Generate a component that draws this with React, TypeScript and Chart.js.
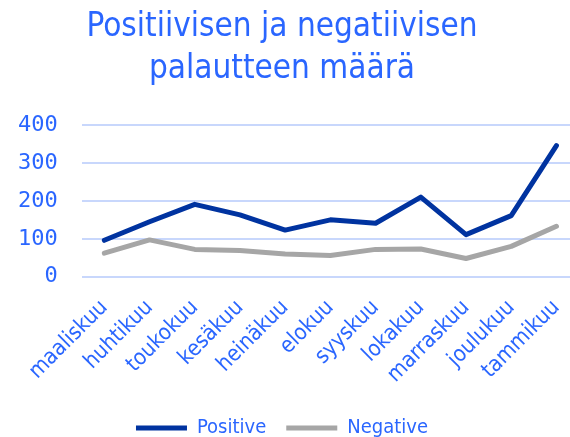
import React, { useEffect, useRef } from 'react';
import { Chart, registerables } from 'chart.js';

Chart.register(...registerables);

const months = ['maaliskuu', 'huhtikuu', 'toukokuu', 'kesäkuu', 'heinäkuu', 'elokuu', 'syyskuu', 'lokakuu', 'marraskuu', 'joulukuu', 'tammikuu'];
const positiveValues = [96, 145, 191, 163, 123, 150, 141, 210, 111, 161, 346];
const negativeValues = [62, 97, 72, 69, 60, 56, 72, 73, 48, 80, 133];
const yTickValues = [0, 100, 200, 300, 400];
const titleLines = ['Positiivisen ja negatiivisen', 'palautteen määrä'];

const TEXT_BLUE = '#2a66ff';
const POS_COLOR = '#0033a0';
const NEG_COLOR = '#a6a6a6';
const GRID_COLOR = '#c8d7fc';
const SANS = "'DejaVu Sans Condensed', 'DejaVu Sans', sans-serif";
const MONO = "'DejaVu Sans Mono', monospace";

const CANVAS_W = 580;
const CANVAS_H = 448;

export default function App() {
  const ref = useRef<HTMLCanvasElement>(null);

  useEffect(() => {
    const chart = new Chart(ref.current as HTMLCanvasElement, {
      type: 'line',
      data: {
        datasets: [
          {
            label: 'Positive',
            data: positiveValues.map((y, i) => ({ x: i, y })),
            borderColor: POS_COLOR,
            backgroundColor: POS_COLOR,
            borderWidth: 5,
            pointRadius: 0,
            pointHoverRadius: 0,
            borderCapStyle: 'round',
            borderJoinStyle: 'round',
            tension: 0,
          },
          {
            label: 'Negative',
            data: negativeValues.map((y, i) => ({ x: i, y })),
            borderColor: NEG_COLOR,
            backgroundColor: NEG_COLOR,
            borderWidth: 5,
            pointRadius: 0,
            pointHoverRadius: 0,
            borderCapStyle: 'round',
            borderJoinStyle: 'round',
            tension: 0,
          },
        ],
      },
      options: {
        animation: false,
        responsive: false,
        maintainAspectRatio: false,
        layout: { padding: { left: 4, right: 0, top: 0, bottom: 0 } },
        plugins: {
          title: {
            display: true,
            text: titleLines,
            color: TEXT_BLUE,
            font: { family: SANS, size: 33, weight: 'normal', lineHeight: 1.26 },
            padding: { top: 7, bottom: 35 },
          },
          legend: {
            position: 'bottom',
            labels: {
              usePointStyle: true,
              pointStyle: 'line',
              pointStyleWidth: 51,
              color: TEXT_BLUE,
              font: { family: SANS, size: 20 },
              padding: 20,
            },
          },
          tooltip: { enabled: false },
        },
        scales: {
          x: {
            type: 'linear',
            min: -0.5,
            max: 10.3,
            grid: { display: false },
            border: { display: false },
            afterBuildTicks: (axis: any) => {
              axis.ticks = months.map((_, i) => ({ value: i }));
            },
            afterFit: (axis: any) => {
              axis.paddingLeft = 0;
              axis.paddingRight = 0;
            },
            ticks: {
              autoSkip: false,
              minRotation: 45,
              maxRotation: 45,
              padding: 10,
              color: TEXT_BLUE,
              font: { family: SANS, size: 22 },
              callback: (v: any) => months[v as number] ?? '',
            },
          },
          y: {
            min: 0,
            max: 400,
            afterBuildTicks: (axis: any) => {
              axis.ticks = yTickValues.map((v) => ({ value: v }));
            },
            grid: { color: GRID_COLOR, lineWidth: 2, drawTicks: false },
            border: { display: false },
            ticks: {
              padding: 24,
              color: TEXT_BLUE,
              font: { family: MONO, size: 22 },
            },
          },
        },
      },
    } as any);
    return () => chart.destroy();
  }, []);

  return (
    <div style={{ position: 'fixed', left: -10, top: 0, width: CANVAS_W, height: 437, overflow: 'hidden' }}>
      <canvas ref={ref} width={CANVAS_W} height={CANVAS_H} style={{ display: 'block', width: CANVAS_W, height: CANVAS_H }} />
    </div>
  );
}
